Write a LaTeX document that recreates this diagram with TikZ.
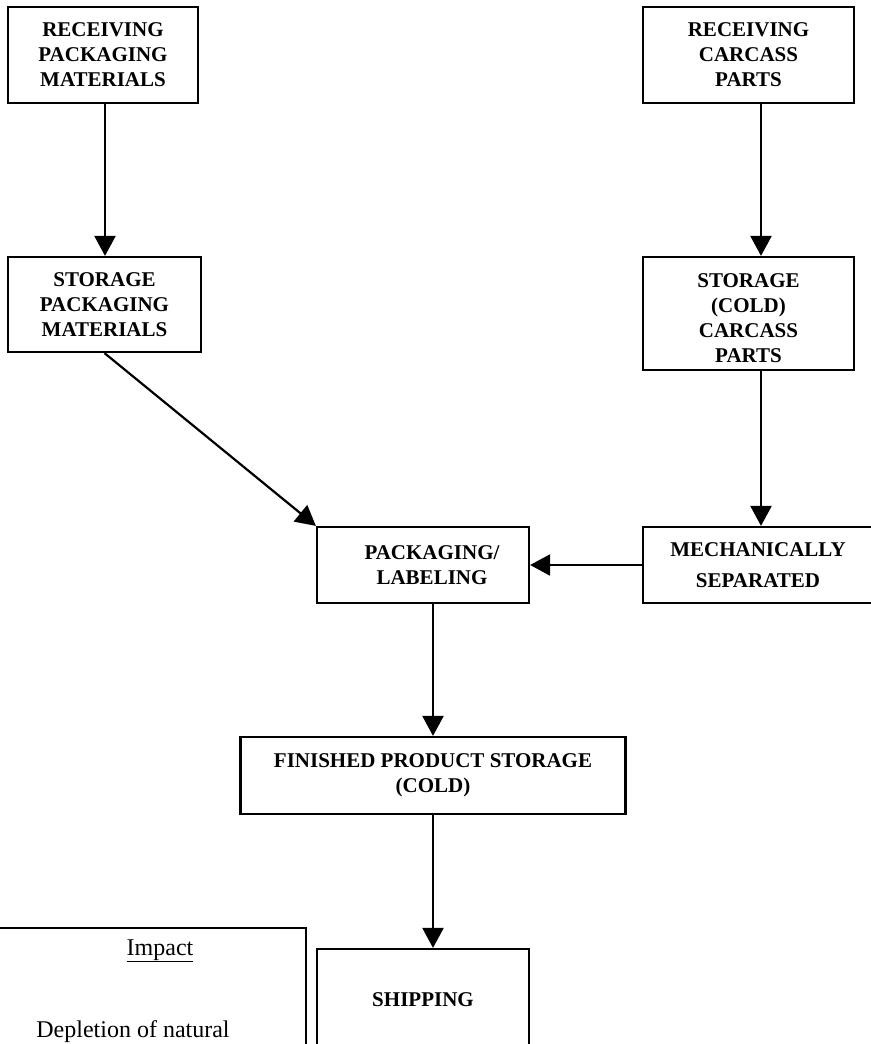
\documentclass[tikz,border=0pt]{standalone}
\usepackage{fontspec}
\setmainfont{Liberation Serif}
\usetikzlibrary{arrows.meta}
\begin{document}
\begin{tikzpicture}[x=1pt,y=-1pt,
  box/.style={draw, line width=2.2pt, inner sep=0pt, align=center,
    font=\fontsize{21}{25}\selectfont\bfseries},
  bxtext/.style={align=center, font=\fontsize{21}{25}\selectfont\bfseries},
  plain/.style={font=\fontsize{24}{28}\selectfont},
  arr/.style={line width=2.2pt, -{Triangle[length=20pt,width=21pt]}}]
\useasboundingbox (0,0) rectangle (870,1044);
\fill[white] (0,0) rectangle (870,1044);

\node[box, minimum width=190, minimum height=96] (b1) at (103,55)
  {RECEIVING\\PACKAGING\\MATERIALS};
\node[box, minimum width=193, minimum height=95] (b2) at (104.5,304.5)
  {STORAGE\\PACKAGING\\MATERIALS};
\node[box, minimum width=211, minimum height=96] (b3) at (748.5,55)
  {RECEIVING\\CARCASS\\PARTS};
\node[box, minimum width=211, minimum height=113,
  label={[bxtext, yshift=-5pt]center:{STORAGE\\(COLD)\\CARCASS\\PARTS}}] (b4) at (748.5,313.5) {};
\node[box, minimum width=230, minimum height=76] (b5) at (758,565)
  {MECHANICALLY\\[6pt]SEPARATED};
\node[box, minimum width=212, minimum height=76,
  label={[bxtext, xshift=9pt]center:{PACKAGING/\\LABELING}}] (b6) at (423,565) {};
\node[box, minimum width=385, minimum height=77] (b7) at (433,775.5)
  {FINISHED PRODUCT STORAGE\\(COLD)};
\node[box, minimum width=212, minimum height=101] (ship) at (423,999.5)
  {SHIPPING};

\node[draw, line width=2.2pt, inner sep=0pt, minimum width=325, minimum height=140,
  anchor=north west] (impact) at (-20,927) {};
\node[plain, anchor=base] (imptitle) at (160,955) {\underline{Impact}};
\node[plain, anchor=base] (impdep) at (133,1037) {Depletion of natural};

\draw[arr] ([xshift=2pt]b1.south) -- ([xshift=2pt]b1.south |- b2.north);
\draw[arr] ([xshift=12.5pt]b3.south) -- ([xshift=12.5pt]b3.south |- b4.north);
\draw[arr] ([xshift=12.5pt]b4.south) -- ([xshift=12.5pt]b4.south |- b5.north);
\draw[arr] (b5.west) -- (b6.east);
\draw[arr] (b2.south) -- (b6.north west);
\draw[arr] ([xshift=10pt]b6.south) -- (b7.north);
\draw[arr] (b7.south) -- (b7.south |- ship.north);
\end{tikzpicture}
\end{document}
